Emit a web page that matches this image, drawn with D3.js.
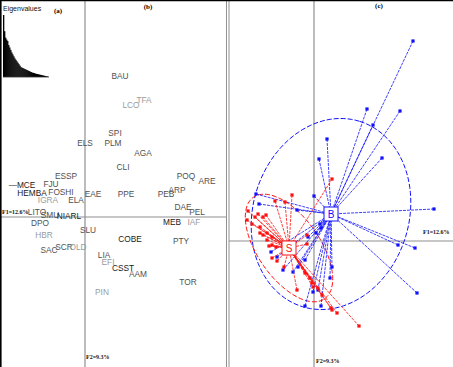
<!DOCTYPE html>
<html>
<head>
<meta charset="utf-8">
<script src="https://cdn.jsdelivr.net/npm/d3@7"></script>
<style>
  body { margin: 0; background: #fff; }
  svg { display: block; }
</style>
</head>
<body>
<div id="graphic"></div>
<script>
// eigenvalues (% of inertia)
const eigenvalues = [12.6, 9.3, 8.0, 7.6, 7.3, 6.5, 6.0, 5.5, 5.0, 4.6, 4.2, 3.8, 3.5, 3.2, 2.9,
    2.6, 2.3, 2.0, 1.9, 1.8, 1.7, 1.6, 1.5, 1.4, 1.3, 1.2, 1.1, 1.0, 0.9, 0.85, 0.8, 0.7,
    0.65, 0.6, 0.55, 0.5, 0.45, 0.4, 0.35, 0.3, 0.25, 0.2, 0.15, 0.1]

// panel (b): species scores on F1 / F2
const speciesCodes = ["BAU", "TFA", "LCO", "SPI", "ELS", "PLM", "AGA", "CLI", "POQ", "ARE",
    "ARP", "PEB", "PPE", "EAE", "DAE", "PEL", "IAF", "MEB", "PTY", "COBE", "SLU",
    "LIA", "EFI", "CSST", "AAM", "TOR", "PIN", "ESSP", "FJU", "\u2014MCE", "HEMBA",
    "FOSHI", "IGRA", "ELA", "LITO", "SMU", "NIARL", "DPO", "HBR", "SAC", "SCR", "OLD"]
const speciesF1 = [0.70, 1.18, 0.92, 0.60, 0.00, 0.56, 1.16, 0.76, 2.02, 2.44,
    1.84, 1.62, 0.82, 0.16, 1.96, 2.24, 2.18, 1.74, 1.92, 0.90, 0.06,
    0.38, 0.46, 0.76, 1.06, 2.06, 0.34, -0.38, -0.68, -1.26, -1.06,
    -0.48, -0.74, -0.18, -0.96, -0.70, -0.32, -0.90, -0.82, -0.72, -0.42, -0.14]
const speciesF2 = [2.82, 2.34, 2.24, 1.68, 1.48, 1.48, 1.28, 1.00, 0.82, 0.72,
    0.54, 0.46, 0.46, 0.46, 0.20, 0.10, -0.10, -0.10, -0.48, -0.44, -0.26,
    -0.76, -0.90, -1.02, -1.14, -1.30, -1.50, 0.82, 0.66, 0.64, 0.48,
    0.50, 0.34, 0.34, 0.10, 0.04, 0.02, -0.12, -0.36, -0.66, -0.60, -0.60]

// panel (c): sites of group B and group S
const bSitesF1 = [1.98, 1.06, 1.72, 1.18, 0.26, 0.10, 1.36, -1.16, 0.00, -1.10, -0.34, 2.40,
    0.12, 0.14, 0.04, -0.12, 1.68, 2.02, -0.86, -0.74, -0.62, -0.42, -0.32, -0.18, 0.36,
    0.32, 0.08, -0.02, 2.06, -0.18, 0.14]
const bSitesF2 = [4.00, 2.64, 2.60, 2.32, 2.04, 1.64, 1.66, 0.94, 0.90, 0.74, 0.62, 0.64,
    0.34, 0.26, 0.16, 0.08, -0.08, -0.14, -0.22, -0.32, -0.58, -0.62, -0.52, -0.38, -0.52,
    -0.74, -0.98, -1.02, -1.04, -1.30, -1.30]
const sSitesF1 = [0.36, -0.44, -0.58, -0.78, -1.32, -1.18, -1.34, -1.12, -1.02, -0.96, -1.24,
    -1.08, -1.08, -1.02, -0.94, -0.84, -0.94, -0.84, -0.76, -0.90, -0.74, -0.84, -0.60, -0.14,
    -0.14, -0.34, -0.18, -0.08, -0.04, -0.02, 0.08, 0.16, 0.34, 0.36, 0.46, 0.90]
const sSitesF2 = [1.24, 0.92, 0.78, 0.80, 0.60, 0.48, 0.42, 0.54, 0.48, 0.52, 0.34,
    0.28, 0.16, 0.12, 0.16, 0.08, 0.02, -0.08, -0.12, -0.10, -0.40, -0.34, -0.52, -0.06,
    0.12, -0.98, -0.64, -0.74, -0.84, -0.92, -0.94, -1.08, -1.34, -1.38, -1.44, -1.70]

const groupNames = ["B", "S"]
const groupF1 = [0.34, -0.50]
const groupF2 = [0.54, -0.14]
const ellipseMajor = [1.94, 1.24]
const ellipseMinor = [1.56, 0.62]
const ellipseAngle = [73, -55]

const axisLabels = ["F1=12.6%", "F2=9.3%"]
const panelTitles = ["(a)", "(b)", "(c)"]

const W = 453, H = 367;
const groupColor = ["#1010ff", "#ff1010"]
const faintCodes = new Set(["HBR", "PIN", "EFI", "IAF", "LCO", "TFA", "IGRA", "OLD"])
const darkCodes = new Set(["HEMBA", "MEB", "CSST", "COBE", "\u2014MCE", "NIARL"])

const svg = d3.select("#graphic")
    .append("svg")
    .attr("width", W)
    .attr("height", H)
    .style("font-family", "'Liberation Sans', Arial, sans-serif");

// scales: same pixels per unit on both axes of each panel
const xB = d3.scaleLinear().domain([-1.7, 2.82]).range([0, 226]);
const yB = d3.scaleLinear().domain([4.34, -3.0]).range([0, H]);
const xC = d3.scaleLinear().domain([-1.7, 2.78]).range([229, W]);
const yC = d3.scaleLinear().domain([4.82, -2.52]).range([0, H]);

// ---- axes / frame
const axisG = svg.append("g").attr("stroke", "#909090").attr("stroke-width", 1.2);
axisG.append("line").attr("x1", xB(0)).attr("x2", xB(0)).attr("y1", 0).attr("y2", H);
axisG.append("line").attr("x1", 0).attr("x2", 226).attr("y1", yB(0)).attr("y2", yB(0));
axisG.append("line").attr("x1", xC(0)).attr("x2", xC(0)).attr("y1", 0).attr("y2", H);
axisG.append("line").attr("x1", 229).attr("x2", W).attr("y1", yC(0)).attr("y2", yC(0));
axisG.append("line").attr("x1", 226.5).attr("x2", 226.5).attr("y1", 0).attr("y2", H).attr("stroke-width", 1);
axisG.append("line").attr("x1", 229).attr("x2", 229).attr("y1", 0).attr("y2", H).attr("stroke-width", 1);

svg.append("line").attr("x1", 0).attr("x2", W).attr("y1", 0.6).attr("y2", 0.6)
    .attr("stroke", "#000").attr("stroke-width", 1.5);
svg.append("line").attr("x1", 0.8).attr("x2", 0.8).attr("y1", 0).attr("y2", H)
    .attr("stroke", "#000").attr("stroke-width", 1.6);

// ---- eigenvalue inset (a)
const xE = d3.scaleBand().domain(d3.range(eigenvalues.length)).range([3, 48]).padding(0);
const yE = d3.scaleLinear().domain([0, eigenvalues[0]]).range([77, 15]);
svg.append("g")
    .selectAll("rect")
    .data(eigenvalues)
    .join("rect")
    .attr("x", (d, i) => xE(i))
    .attr("y", d => yE(d))
    .attr("width", xE.bandwidth() + 0.3)
    .attr("height", d => yE(0) - yE(d))
    .attr("fill", "#000");
svg.append("line").attr("x1", 3).attr("x2", 49).attr("y1", yE(0)).attr("y2", yE(0))
    .attr("stroke", "#333").attr("stroke-width", 0.8);
svg.append("text").attr("x", 3).attr("y", 11).text("Eigenvalues")
    .attr("font-size", "7px").attr("fill", "#111");

// titles
const titleFont = "'Liberation Serif', 'DejaVu Serif', serif"
svg.append("g").selectAll("text")
    .data(panelTitles)
    .join("text")
    .attr("x", (d, i) => [58, 148, 379][i])
    .attr("y", (d, i) => [13, 9, 8][i])
    .attr("text-anchor", "middle")
    .attr("font-family", titleFont)
    .attr("font-weight", "bold")
    .attr("font-size", "7px")
    .text(d => d);

// axis labels
const lab = svg.append("g").attr("font-family", titleFont).attr("font-weight", "bold")
    .attr("font-size", "6px").attr("fill", "#111");
lab.append("text").attr("x", 2).attr("y", yB(0) - 3).text(axisLabels[0]);
lab.append("text").attr("x", xB(0) + 1).attr("y", 359).text(axisLabels[1]);
lab.append("text").attr("x", 423).attr("y", yC(0) - 7).text(axisLabels[0]);
lab.append("text").attr("x", xC(0) + 2).attr("y", 363).text(axisLabels[1]);

// ---- species labels (b)
svg.append("g")
    .selectAll("text")
    .data(speciesCodes)
    .join("text")
    .attr("x", (d, i) => xB(speciesF1[i]))
    .attr("y", (d, i) => yB(speciesF2[i]))
    .attr("text-anchor", "middle")
    .attr("dominant-baseline", "central")
    .attr("font-size", "8.3px")
    .attr("fill", d => faintCodes.has(d) ? "#9a9a9a" : darkCodes.has(d) ? "#1a1a1a" : "#505050")
    .text(d => d);

// ---- class plot (c)
const ellipsePath = function (g) {
    const phi = ellipseAngle[g] * Math.PI / 180;
    const pts = d3.range(0, 2 * Math.PI + 0.01, Math.PI / 60).map(t => {
        const a = ellipseMajor[g] * Math.cos(t), b = ellipseMinor[g] * Math.sin(t);
        return [xC(groupF1[g] + a * Math.cos(phi) - b * Math.sin(phi)),
                yC(groupF2[g] + a * Math.sin(phi) + b * Math.cos(phi))];
    });
    return d3.line()(pts);
}

const sites = [
    { f1: bSitesF1, f2: bSitesF2 },
    { f1: sSitesF1, f2: sSitesF2 }
]

groupNames.forEach((name, g) => {
    svg.append("path")
        .attr("d", ellipsePath(g))
        .attr("fill", "none")
        .attr("stroke", groupColor[g])
        .attr("stroke-width", 1)
        .attr("stroke-dasharray", "5,2");
});

groupNames.forEach((name, g) => {
    const s = sites[g];
    const layer = svg.append("g");
    layer.selectAll("line")
        .data(s.f1)
        .join("line")
        .attr("x1", (d, i) => xC(s.f1[i]))
        .attr("y1", (d, i) => yC(s.f2[i]))
        .attr("x2", xC(groupF1[g]))
        .attr("y2", yC(groupF2[g]))
        .attr("stroke", groupColor[g])
        .attr("stroke-width", 0.8)
        .attr("stroke-dasharray", "3,1");
    layer.selectAll("rect")
        .data(s.f1)
        .join("rect")
        .attr("x", (d, i) => xC(s.f1[i]) - 1.6)
        .attr("y", (d, i) => yC(s.f2[i]) - 1.6)
        .attr("width", 3.2)
        .attr("height", 3.2)
        .attr("fill", groupColor[g]);
});

groupNames.forEach((name, g) => {
    const cx = xC(groupF1[g]), cy = yC(groupF2[g]);
    svg.append("rect")
        .attr("x", cx - 7).attr("y", cy - 7)
        .attr("width", 14).attr("height", 14)
        .attr("fill", "#fff")
        .attr("stroke", groupColor[g])
        .attr("stroke-width", 1);
    svg.append("text")
        .attr("x", cx).attr("y", cy)
        .attr("text-anchor", "middle")
        .attr("dominant-baseline", "central")
        .attr("font-size", "10px")
        .attr("fill", groupColor[g])
        .text(name);
});
</script>
</body>
</html>
